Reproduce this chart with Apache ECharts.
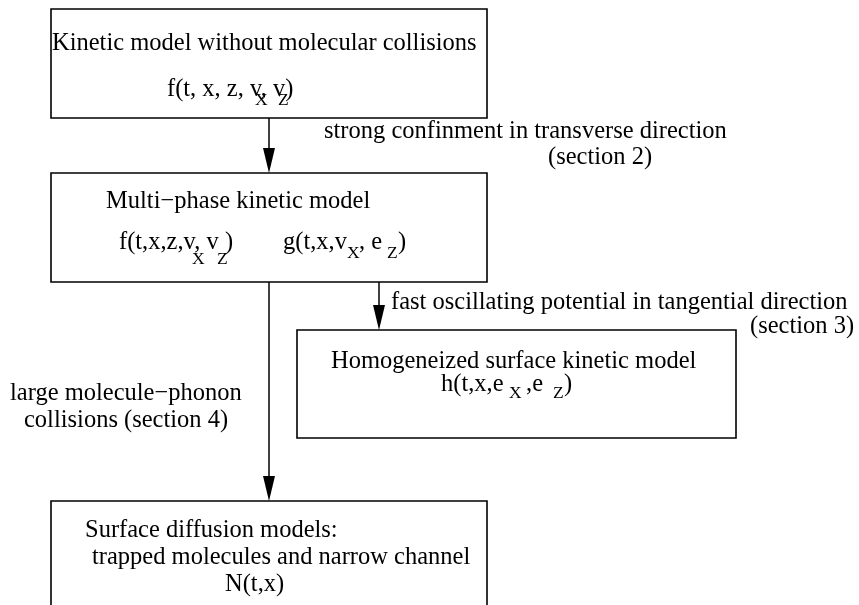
<!DOCTYPE html>
<html><head><meta charset="utf-8">
<script src="https://cdn.jsdelivr.net/npm/echarts@6/dist/echarts.min.js"></script>
<style>html,body{margin:0;padding:0;background:#fff}#c{width:859px;height:605px}</style>
</head><body><div id="c"></div>
<script>
// ---- content ----
const boxTitles = [
  'Kinetic model without molecular collisions',
  'Multi\u2212phase kinetic model',
  'Homogeneized surface kinetic model',
  'Surface diffusion models:'
];
const boxExtra = ['trapped molecules and narrow channel'];
const formulaPieces = [
  'f(t, x, z, v, v)', 'X', 'Z',
  'f(t,x,z,v, v )', 'X', 'Z',
  'g(t,x,v', 'X', ', e', 'Z', ')',
  'h(t,x,e', 'X', ',e', 'Z', ')',
  'N(t,x)'
];
const formulaIsSub = [0, 1, 1, 0, 1, 1, 0, 1, 0, 1, 0, 0, 1, 0, 1, 0, 0];
const edgeLabels = [
  'strong confinment in transverse direction', '(section 2)',
  'fast oscillating potential in tangential direction', '(section 3)',
  'large molecule\u2212phonon', 'collisions (section 4)'
];

// ---- layout (positions only) ----
const boxRects = [[51, 9, 487, 118], [51, 173, 487, 282], [297, 330, 736, 438], [51, 501, 487, 660]];
const arrowPaths = [[269, 118, 269, 173], [379, 282, 379, 330], [269, 282, 269, 501]];
const titlePos = [[52, 49], [106, 207], [331, 367], [85, 536]];
const extraPos = [[92, 563]];
const formulaPos = [
  [167, 94.5], [255, 104], [278, 104],
  [119, 248], [192, 263], [217, 263],
  [283, 248], [347, 257], [359, 248], [387, 257], [398, 248],
  [441, 390], [509, 397], [526, 390], [553, 397], [564, 390],
  [225, 590]
];
const edgePos = [[324, 137], [548, 163], [391, 308], [750, 332], [10, 399], [24, 426]];

// build text table
const texts = [];
boxTitles.forEach((t, i) => texts.push([t, titlePos[i][0], titlePos[i][1], 0]));
boxExtra.forEach((t, i) => texts.push([t, extraPos[i][0], extraPos[i][1], 0]));
formulaPieces.forEach((t, i) => texts.push([t, formulaPos[i][0], formulaPos[i][1], formulaIsSub[i]]));
edgeLabels.forEach((t, i) => texts.push([t, edgePos[i][0], edgePos[i][1], 0]));

const FONT = '"Liberation Serif", "Times New Roman", serif';
const chart = echarts.init(document.getElementById('c'), null, {renderer: 'canvas'});
chart.setOption({
  backgroundColor: '#ffffff',
  animation: false,
  grid: {left: 0, right: 0, top: 0, bottom: 0},
  xAxis: {type: 'value', min: 0, max: 859, show: false},
  yAxis: {type: 'value', min: 0, max: 605, inverse: true, show: false},
  series: [
    {
      type: 'custom', clip: false, silent: true,
      data: boxRects,
      renderItem: function (params, api) {
        const p0 = api.coord([api.value(0), api.value(1)]);
        const p1 = api.coord([api.value(2), api.value(3)]);
        return {type: 'rect', shape: {x: p0[0], y: p0[1], width: p1[0] - p0[0], height: p1[1] - p0[1]},
          style: {fill: 'none', stroke: '#000', lineWidth: 1.6}};
      }
    },
    {
      type: 'custom', clip: false, silent: true,
      data: arrowPaths,
      renderItem: function (params, api) {
        const a = api.coord([api.value(0), api.value(1)]);
        const b = api.coord([api.value(2), api.value(3)]);
        const L = 25, W = 6;
        return {type: 'group', children: [
          {type: 'line', shape: {x1: a[0], y1: a[1], x2: b[0], y2: b[1] - L + 2}, style: {stroke: '#000', lineWidth: 1.5}},
          {type: 'polygon', shape: {points: [[b[0] - W, b[1] - L], [b[0] + W, b[1] - L], [b[0], b[1]]]}, style: {fill: '#000'}}
        ]};
      }
    },
    {
      type: 'custom', clip: false, silent: true,
      data: texts.map((t, i) => [t[1], t[2], i]),
      renderItem: function (params, api) {
        const t = texts[api.value(2)];
        const size = t[3] ? 17.5 : 24.5;
        const p = api.coord([api.value(0), api.value(1)]);
        return {type: 'text', x: p[0], y: p[1] - size * 0.22,
          style: {text: t[0], fontFamily: FONT, fontSize: size, fill: '#000', align: 'left', verticalAlign: 'middle'}};
      }
    }
  ]
});
</script></body></html>
